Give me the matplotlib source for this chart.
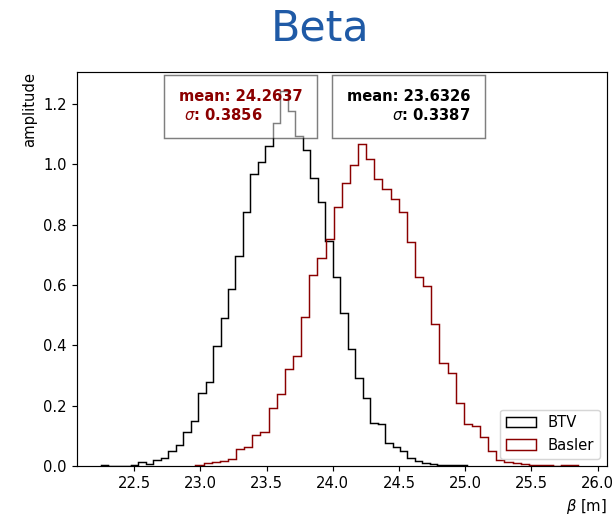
import numpy as np
import matplotlib
matplotlib.use('Agg')
import matplotlib.pyplot as plt

# BTV histogram (density), regular bins
btv_start = 22.249
btv_width = 0.05646
btv_heights = [0.003, 0.0, 0.0, 0.0, 0.003, 0.012, 0.008, 0.020, 0.026, 0.050,
               0.069, 0.113, 0.150, 0.243, 0.277, 0.399, 0.490, 0.586, 0.695, 0.841,
               0.967, 1.006, 1.059, 1.136, 1.243, 1.175, 1.094, 1.048, 0.953, 0.874,
               0.747, 0.626, 0.507, 0.389, 0.290, 0.227, 0.141, 0.138, 0.077, 0.064,
               0.050, 0.028, 0.018, 0.009, 0.008, 0.004, 0.003, 0.002, 0.003]

# Basler histogram (density), regular bins
basler_start = 22.9625
basler_width = 0.06141
basler_heights = [0.003, 0.010, 0.012, 0.018, 0.022, 0.056, 0.064, 0.102, 0.112, 0.192,
                  0.238, 0.323, 0.364, 0.494, 0.634, 0.690, 0.753, 0.857, 0.937, 0.997,
                  1.067, 1.017, 0.951, 0.918, 0.885, 0.841, 0.742, 0.626, 0.595, 0.472,
                  0.342, 0.309, 0.210, 0.139, 0.133, 0.095, 0.051, 0.020, 0.014, 0.009,
                  0.007, 0.003, 0.002, 0.003, 0.001, 0.002, 0.002]

btv_mean, btv_sigma = 23.6326, 0.3387
basler_mean, basler_sigma = 24.2637, 0.3856

btv_edges = btv_start + btv_width * np.arange(len(btv_heights) + 1)
basler_edges = basler_start + basler_width * np.arange(len(basler_heights) + 1)

fig = plt.figure(figsize=(615 / 106, 515 / 106), dpi=106)
ax = fig.add_axes([0.125, 0.0951, 0.862, 0.765])

ax.hist(btv_edges[:-1], bins=btv_edges, weights=btv_heights, histtype='step',
        color='black', linewidth=1, label='BTV')
ax.hist(basler_edges[:-1], bins=basler_edges, weights=basler_heights, histtype='step',
        color='darkred', linewidth=1, label='Basler')

ax.set_xlim(22.068, 26.07)
ax.set_xticks([22.5, 23.0, 23.5, 24.0, 24.5, 25.0, 25.5, 26.0])
ax.set_xlabel(r'$\beta$ [m]', loc='right')
ax.set_ylabel('amplitude', loc='top')
ax.legend(loc='lower right')

ax.text(0.3085, 0.9137, 'mean: %.4f\n $\\sigma$: %.4f' % (basler_mean, basler_sigma),
        transform=ax.transAxes, ha='center', va='center', ma='left',
        color='darkred', fontweight='bold',
        bbox=dict(boxstyle='square,pad=1.0', facecolor='white', alpha=0.5))
ax.text(0.6255, 0.9137, 'mean: %.4f\n$\\sigma$: %.4f' % (btv_mean, btv_sigma),
        transform=ax.transAxes, ha='center', va='center', ma='right',
        color='black', fontweight='bold',
        bbox=dict(boxstyle='square,pad=1.0', facecolor='white', alpha=0.5))

fig.text(320 / 615, 0.945, 'Beta', ha='center', va='center', fontsize=29, color='#1f5aa6')

fig.savefig('out.png', dpi=106)
